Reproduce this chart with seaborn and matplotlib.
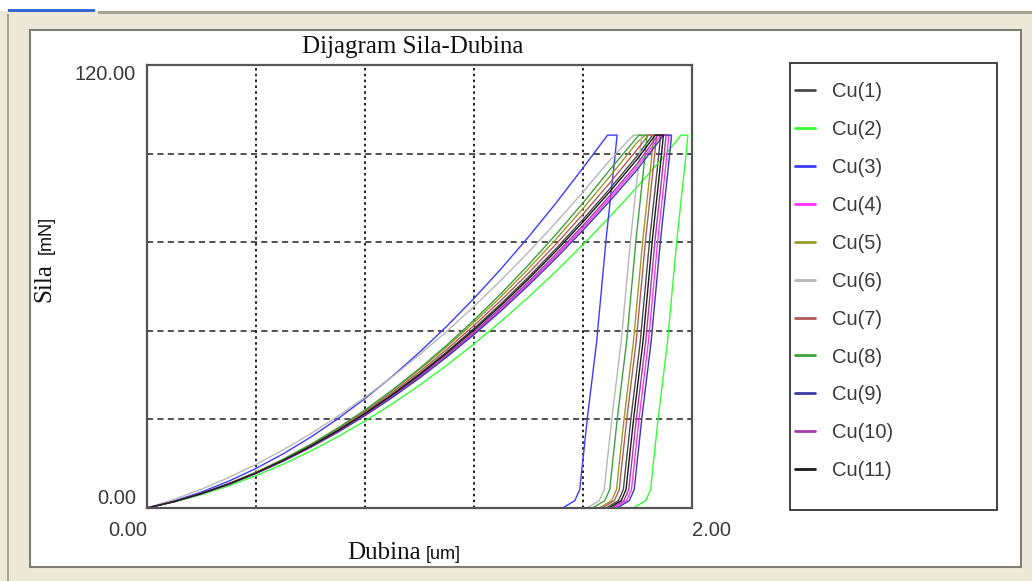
import numpy as np
import pandas as pd
import matplotlib.pyplot as plt
import seaborn as sns
from matplotlib.patches import Rectangle


# Uzorci i boje (kao u legendi)
samples = ['Cu(1)', 'Cu(2)', 'Cu(3)', 'Cu(4)', 'Cu(5)', 'Cu(6)',
           'Cu(7)', 'Cu(8)', 'Cu(9)', 'Cu(10)', 'Cu(11)']
colors = ['#4a4a4a', '#33ff33', '#3c3cff', '#ff33ff', '#9a9a2a', '#b8b8b8',
          '#b45a5a', '#3fa03f', '#3a3aa8', '#a83aa8', '#1a1a1a']

# Opterecenje: sila [mN] ocitana na zajednickim dubinama [um]
load_depth = [0.0, 0.1, 0.2, 0.3, 0.4, 0.5, 0.6, 0.7, 0.8, 0.9,
              1.0, 1.1, 1.2, 1.3, 1.4, 1.5, 1.6, 1.7, 1.8, 1.9]
nan = np.nan
load_cu1 = [0, 1.76, 3.93, 6.53, 9.54, 12.97, 16.81, 21.07, 25.75, 30.85,
            36.36, 42.29, 48.64, 55.40, 62.59, 70.19, 78.2, 86.64, 95.49, nan]
load_cu2 = [0, 1.62, 3.63, 6.01, 8.76, 11.9, 15.41, 19.31, 23.58, 28.22,
            33.25, 38.65, 44.44, 50.6, 57.13, 64.05, 71.34, 79.02, 87.07, 95.5]
load_cu3 = [0, 1.91, 4.33, 7.27, 10.72, 14.68, 19.16, 24.15, 29.65, 35.66,
            42.19, 49.23, 56.78, 64.85, 73.43, 82.52, 92.13, nan, nan, nan]
load_cu4 = [0, 1.75, 3.9, 6.45, 9.39, 12.74, 16.48, 20.63, 25.17, 30.11,
            35.45, 41.19, 47.33, 53.87, 60.8, 68.14, 75.87, 84.01, 92.54, nan]
load_cu5 = [0, 1.77, 3.98, 6.63, 9.72, 13.25, 17.22, 21.63, 26.48, 31.77,
            37.5, 43.67, 50.28, 57.33, 64.82, 72.75, 81.12, 89.93, 99.18, nan]
load_cu6 = [0, 2.35, 5.1, 8.25, 11.8, 15.75, 20.1, 24.85, 30.0, 35.55,
            41.5, 47.85, 54.6, 61.75, 69.3, 77.25, 85.6, 94.35, nan, nan]
load_cu7 = [0, 1.76, 3.96, 6.58, 9.62, 13.1, 17.0, 21.34, 26.1, 31.28,
            36.9, 42.94, 49.42, 56.32, 63.64, 71.4, 79.58, 88.2, 97.24, nan]
load_cu8 = [0, 1.7, 3.86, 6.49, 9.58, 13.13, 17.14, 21.61, 26.54, 31.94,
            37.8, 44.12, 50.9, 58.15, 65.86, 74.03, 82.66, 91.75, nan, nan]
load_cu9 = [0, 1.75, 3.89, 6.42, 9.35, 12.68, 16.39, 20.5, 25.01, 29.91,
            35.2, 40.89, 46.97, 53.44, 60.31, 67.58, 75.23, 83.28, 91.73, nan]
load_cu10 = [0, 1.75, 3.91, 6.47, 9.43, 12.8, 16.57, 20.75, 25.33, 30.31,
             35.7, 41.49, 47.69, 54.29, 61.29, 68.7, 76.51, 84.73, 93.35, nan]
load_cu11 = [0, 1.76, 3.92, 6.5, 9.49, 12.9, 16.71, 20.93, 25.57, 30.62,
             36.08, 41.95, 48.24, 54.93, 62.04, 69.56, 77.48, 85.83, 94.58, nan]

# Maksimalna sila i zadrzavanje (pocetak / kraj)
peak_force = 101.0
peak_start = [1.855, 1.96, 1.69, 1.885, 1.83, 1.785, 1.84, 1.805, 1.895, 1.875, 1.865]
peak_end = [1.885, 1.985, 1.725, 1.915, 1.86, 1.815, 1.87, 1.835, 1.925, 1.905, 1.895]

# Rasterecenje: dubine ocitane na zajednickim nivoima sile
unload_force = [95, 73, 45, 25, 12, 5, 2, 0]
unload_cu1 = [1.877, 1.845, 1.81, 1.777, 1.758, 1.748, 1.73, 1.685]
unload_cu2 = [1.977, 1.945, 1.91, 1.877, 1.858, 1.848, 1.83, 1.785]
unload_cu3 = [1.717, 1.685, 1.65, 1.617, 1.598, 1.588, 1.57, 1.525]
unload_cu4 = [1.907, 1.875, 1.84, 1.807, 1.788, 1.778, 1.76, 1.715]
unload_cu5 = [1.852, 1.82, 1.785, 1.752, 1.733, 1.723, 1.705, 1.66]
unload_cu6 = [1.807, 1.775, 1.74, 1.707, 1.688, 1.678, 1.66, 1.615]
unload_cu7 = [1.862, 1.83, 1.795, 1.762, 1.743, 1.733, 1.715, 1.67]
unload_cu8 = [1.827, 1.795, 1.76, 1.727, 1.708, 1.698, 1.68, 1.635]
unload_cu9 = [1.917, 1.885, 1.85, 1.817, 1.798, 1.788, 1.77, 1.725]
unload_cu10 = [1.897, 1.865, 1.83, 1.797, 1.778, 1.768, 1.75, 1.705]
unload_cu11 = [1.887, 1.855, 1.82, 1.787, 1.768, 1.758, 1.74, 1.695]

loads = [load_cu1, load_cu2, load_cu3, load_cu4, load_cu5, load_cu6,
         load_cu7, load_cu8, load_cu9, load_cu10, load_cu11]
unloads = [unload_cu1, unload_cu2, unload_cu3, unload_cu4, unload_cu5, unload_cu6,
           unload_cu7, unload_cu8, unload_cu9, unload_cu10, unload_cu11]

rows = []
for i, name in enumerate(samples):
    h = [d for d, p in zip(load_depth, loads[i]) if not np.isnan(p)]
    p = [v for v in loads[i] if not np.isnan(v)]
    h += [peak_start[i], peak_end[i]] + unloads[i]
    p += [peak_force, peak_force] + unload_force
    for k, (hh, pp) in enumerate(zip(h, p)):
        rows.append({'uzorak': name, 'korak': k, 'dubina': hh, 'sila': pp})
df = pd.DataFrame(rows)

W, H = 1032, 581
sns.set_style('white')
plt.rcParams['font.family'] = ['Liberation Sans', 'DejaVu Sans']

fig = plt.figure(figsize=(W / 100, H / 100), dpi=100, facecolor='#ece9d8')


def px_rect(x0, y0, x1, y1, **kw):
    r = Rectangle((x0 / W, 1 - y1 / H), (x1 - x0) / W, (y1 - y0) / H,
                  transform=fig.transFigure, **kw)
    fig.patches.append(r)
    return r


# okvir prozora
px_rect(0, 0, W, 11, facecolor='white', edgecolor='none', zorder=-3)
px_rect(8, 9, 95, 12, facecolor='#3a66d0', edgecolor='none', zorder=-2)
px_rect(98, 11, W, 14, facecolor='#a5a392', edgecolor='none', zorder=-2)
px_rect(7, 14, 9, H, facecolor='#a5a392', edgecolor='none', zorder=-2)
px_rect(30, 30, 1021, 567, facecolor='white', edgecolor='#807e72', lw=1.5, zorder=-2)
px_rect(790, 63, 997, 510, facecolor='white', edgecolor='#333333', lw=1.3, zorder=-1)

ax = fig.add_axes([147 / W, 1 - 508 / H, (692 - 147) / W, (508 - 65) / H])
ax.set_facecolor('white')

sns.lineplot(data=df, x='dubina', y='sila', hue='uzorak', hue_order=samples,
             palette=colors, sort=False, estimator=None, lw=1.0, ax=ax)

ax.set_xlim(0, 2)
ax.set_ylim(0, 120)
ax.set_xticks([0, 2])
ax.set_xticklabels(['0.00', '2.00'])
ax.set_yticks([0, 120])
ax.set_yticklabels(['0.00', '120.00'])
ax.set_xticks([0.4, 0.8, 1.2, 1.6], minor=True)
ax.set_yticks([24, 48, 72, 96], minor=True)
ax.tick_params(which='both', length=0, labelsize=14.5, labelcolor='#3a3a3a')
ax.tick_params(axis='x', pad=9)
ax.tick_params(axis='y', pad=8)
xl = ax.get_xticklabels()
xl[0].set_ha('right')
xl[1].set_ha('left')
yl = ax.get_yticklabels()
yl[0].set_va('bottom')
yl[1].set_va('top')

ax.grid(False)
ax.xaxis.grid(True, which='minor', color='#222222', linestyle=(0, (1.3, 1.7)), lw=1.4)
ax.yaxis.grid(True, which='minor', color='#222222', linestyle=(0, (4, 2.8)), lw=1.1)
ax.set_axisbelow(True)
for s in ax.spines.values():
    s.set_color('#555555')
    s.set_linewidth(1.6)
ax.set_xlabel('')
ax.set_ylabel('')

# naslov i oznake osa
fig.text(413 / W, 1 - 47 / H, 'Dijagram Sila-Dubina', family='Liberation Serif',
         fontsize=18, ha='center', va='center', color='#111111')
fig.text(421 / W, 1 - 559 / H, 'Dubina', family='Liberation Serif', fontsize=18,
         ha='right', va='baseline', color='#111111')
fig.text(426 / W, 1 - 559 / H, '[um]', fontsize=13, ha='left', va='baseline',
         color='#111111')
fig.text(44 / W, 1 - 302 / H, 'Sila', family='Liberation Serif', fontsize=18,
         rotation=90, ha='center', va='bottom', color='#111111')
fig.text(46 / W, 1 - 254 / H, '[mN]', fontsize=13, rotation=90, ha='center',
         va='bottom', color='#111111')

# legenda
handles, labels = ax.get_legend_handles_labels()
ax.get_legend().remove()
leg = fig.legend(handles, labels, loc='upper left',
                 bbox_to_anchor=(795 / W, 1 - 82 / H), frameon=False,
                 fontsize=14.5, handlelength=1.0, handletextpad=0.85,
                 labelspacing=0.94, borderpad=0, borderaxespad=0)
for t in leg.get_texts():
    t.set_color('#3a3a3a')
for hnd in leg.legend_handles:
    hnd.set_linewidth(2.0)

fig.savefig('out.png', dpi=100, facecolor=fig.get_facecolor())
